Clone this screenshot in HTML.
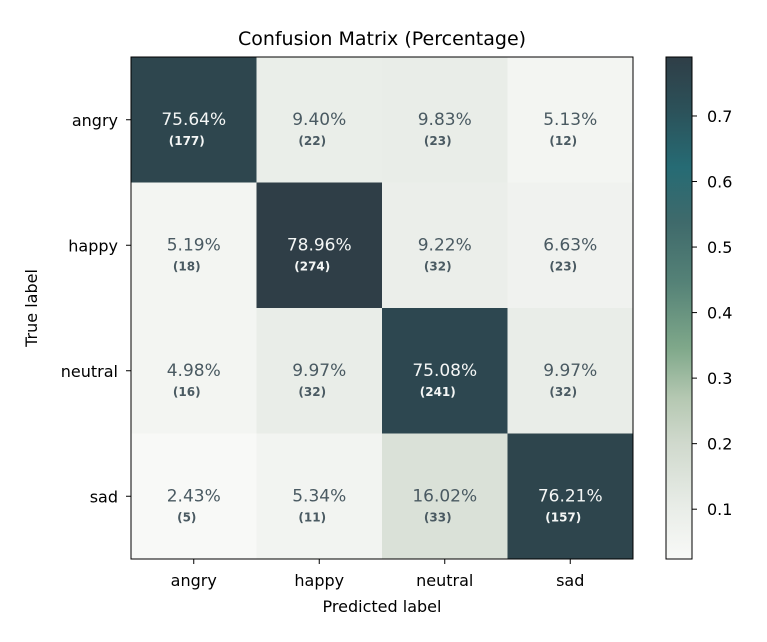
<!DOCTYPE html>
<html><head><meta charset="utf-8">
<style>
body{margin:0;background:#fff;font-family:"Liberation Sans","DejaVu Sans",sans-serif;}
svg text{font-family:"DejaVu Sans","Liberation Sans",sans-serif;}
</style></head>
<body>
<svg id="chart" width="767" height="637" xmlns="http://www.w3.org/2000/svg">
<defs>
<linearGradient id="cbgrad" x1="0" y1="1" x2="0" y2="0">
<stop offset="0" stop-color="#f8f9f7"/>
<stop offset="0.1" stop-color="#e9ede8"/>
<stop offset="0.23" stop-color="#d0d9cd"/>
<stop offset="0.32" stop-color="#b5c8b2"/>
<stop offset="0.42" stop-color="#7fa88a"/>
<stop offset="0.55" stop-color="#558277"/>
<stop offset="0.67" stop-color="#3f6a6b"/>
<stop offset="0.78" stop-color="#266b74"/>
<stop offset="0.9" stop-color="#2c5058"/>
<stop offset="1" stop-color="#2f3e47"/>
</linearGradient>
</defs>
<text x="382" y="45" font-size="19" text-anchor="middle" fill="#000">Confusion Matrix (Percentage)</text>
<g id="cells"></g>
<rect x="131" y="57" width="502" height="502" fill="none" stroke="#000" stroke-width="1"/>
<g id="axes"></g>
<text x="382" y="612" font-size="16" text-anchor="middle">Predicted label</text>
<text x="0" y="0" font-size="16" text-anchor="middle" transform="translate(37,308) rotate(-90)">True label</text>
<rect x="666" y="57" width="26" height="502" fill="url(#cbgrad)" stroke="#000" stroke-width="1"/>
<g id="cbticks"></g>
</svg>
<script>
const labels = ["angry","happy","neutral","sad"];
const pct = [
 [75.64, 9.40, 9.83, 5.13],
 [5.19, 78.96, 9.22, 6.63],
 [4.98, 9.97, 75.08, 9.97],
 [2.43, 5.34, 16.02, 76.21]
];
const counts = [
 ["177","22","23","12"],
 ["18","274","32","23"],
 ["16","32","241","32"],
 ["5","11","33","157"]
];
const cbTicks = [0.1,0.2,0.3,0.4,0.5,0.6,0.7];
const vmin = 0.024, vmax = 0.79;

const X0=131, Y0=57, S=502, n=labels.length, cw=S/n;
const stops=[[0,[248,249,247]],[0.1,[233,237,232]],[0.23,[208,217,205]],[0.32,[181,200,178]],[0.42,[127,168,138]],[0.55,[85,130,119]],[0.67,[63,106,107]],[0.78,[38,107,116]],[0.9,[44,80,88]],[1,[47,62,71]]];
function cmap(v){
  let t=(v-vmin)/(vmax-vmin); t=Math.max(0,Math.min(1,t));
  for(let i=1;i<stops.length;i++){
    if(t<=stops[i][0]){
      const a=stops[i-1],b=stops[i],f=(t-a[0])/(b[0]-a[0]);
      return 'rgb('+a[1].map((c,k)=>Math.round(c+(b[1][k]-c)*f)).join(',')+')';
    }
  }
  return 'rgb(47,62,71)';
}
function xPos(j){return X0+cw*j;}
function yPos(i){return Y0+cw*i;}
function cbY(v){return Y0+S-(v-vmin)/(vmax-vmin)*S;}
const NS='http://www.w3.org/2000/svg';
const cg=document.getElementById('cells');
for(let i=0;i<n;i++)for(let j=0;j<n;j++){
  const v=pct[i][j]/100;
  const r=document.createElementNS(NS,'rect');
  r.setAttribute('x',xPos(j));r.setAttribute('y',yPos(i));
  r.setAttribute('width',cw);r.setAttribute('height',cw);
  r.setAttribute('fill',cmap(v));
  
  
  cg.appendChild(r);
  const dark=v>0.4;
  const t=document.createElementNS(NS,'text');
  t.setAttribute('x',xPos(j)+cw/2);t.setAttribute('y',yPos(i)+cw/2+5);
  t.setAttribute('text-anchor','middle');t.setAttribute('font-size','17');
  t.setAttribute('fill',dark?'#f4f6f5':'#4a5a62');
  t.textContent=pct[i][j].toFixed(2)+'%';
  
  
  cg.appendChild(t);
  const c=document.createElementNS(NS,'text');
  c.setAttribute('x',xPos(j)+cw/2-7);c.setAttribute('y',yPos(i)+cw/2+25);
  c.setAttribute('text-anchor','middle');c.setAttribute('font-size','12');c.setAttribute('font-weight','bold');
  c.setAttribute('fill',dark?'#f4f6f5':'#4a5a62');
  c.textContent='('+counts[i][j]+')';
  
  
  cg.appendChild(c);
}
const ag=document.getElementById('axes');
labels.forEach((l,k)=>{
  const cx=xPos(k)+cw/2, cy=yPos(k)+cw/2;
  let ln=document.createElementNS(NS,'line');
  ln.setAttribute('x1',cx);ln.setAttribute('x2',cx);ln.setAttribute('y1',559);ln.setAttribute('y2',564);ln.setAttribute('stroke','#000');
  
  
  ag.appendChild(ln);
  let t=document.createElementNS(NS,'text');
  t.setAttribute('x',cx);t.setAttribute('y',586);t.setAttribute('text-anchor','middle');t.setAttribute('font-size','16');
  t.textContent=l;
  
  
  ag.appendChild(t);
  ln=document.createElementNS(NS,'line');
  ln.setAttribute('x1',126);ln.setAttribute('x2',131);ln.setAttribute('y1',cy);ln.setAttribute('y2',cy);ln.setAttribute('stroke','#000');
  
  
  ag.appendChild(ln);
  t=document.createElementNS(NS,'text');
  t.setAttribute('x',118);t.setAttribute('y',cy+6);t.setAttribute('text-anchor','end');t.setAttribute('font-size','16');
  t.textContent=l;
  
  
  ag.appendChild(t);
});
const cb=document.getElementById('cbticks');
cbTicks.forEach(v=>{
  const y=cbY(v);
  const ln=document.createElementNS(NS,'line');
  ln.setAttribute('x1',692);ln.setAttribute('x2',697);ln.setAttribute('y1',y);ln.setAttribute('y2',y);ln.setAttribute('stroke','#000');
  
  
  cb.appendChild(ln);
  const t=document.createElementNS(NS,'text');
  t.setAttribute('x',707);t.setAttribute('y',y+6);t.setAttribute('font-size','16');
  t.textContent=v.toFixed(1);
  
  
  cb.appendChild(t);
});
</script>
</body></html>
